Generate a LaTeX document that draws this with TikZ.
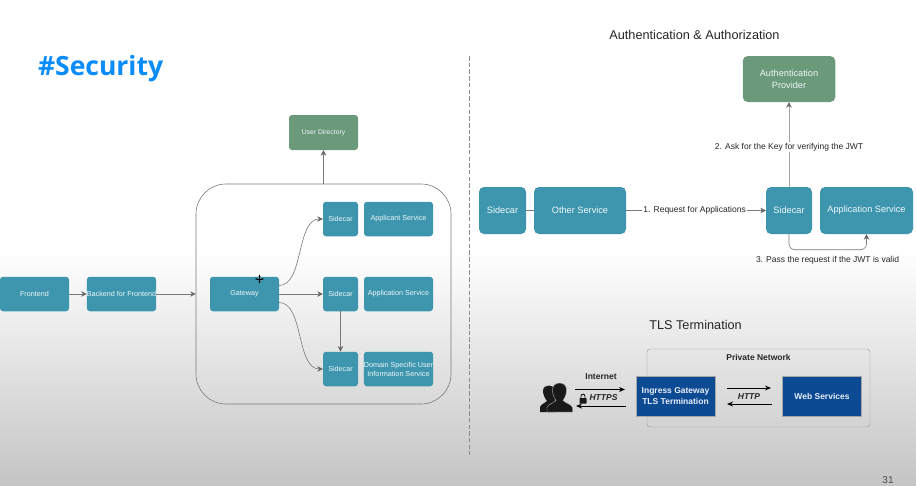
\documentclass[tikz,border=0pt]{standalone}
\usepackage{fontspec}
\setmainfont{Liberation Sans}
\newfontfamily\titlefont{Open Sans}
\usetikzlibrary{arrows.meta}
\usetikzlibrary{positioning}
\definecolor{tealbox}{HTML}{3E96AE}
\definecolor{greenbox}{HTML}{6A9A7A}
\definecolor{navybox}{HTML}{0D4A94}
\definecolor{linegray}{HTML}{7A7A7A}
\definecolor{titleblue}{HTML}{0A8CFA}
\tikzstyle{svc}=[rectangle,rounded corners=3pt,fill=tealbox,text=white!92!tealbox,align=center,font=\fontsize{7.2}{9}\selectfont,inner sep=0pt]
\tikzstyle{bigsvc}=[svc,rounded corners=5pt,font=\fontsize{9.2}{11}\selectfont]
\tikzstyle{auth}=[svc,fill=greenbox,font=\fontsize{6.8}{9}\selectfont]
\tikzstyle{tls}=[rectangle,fill=navybox,draw=black!35,text=white!90!navybox,align=center,font=\fontsize{8.5}{10.5}\selectfont\bfseries,inner sep=0pt]
\tikzstyle{edge}=[draw=linegray,line width=0.6pt,-{Stealth[length=5.5pt,width=5.5pt,color=black!60]}]
\tikzstyle{flatedge}=[draw=linegray,line width=0.6pt]
\tikzstyle{blackedge}=[draw=black,line width=0.9pt,-{Stealth[length=6pt,width=5pt]}]
\tikzstyle{weight}=[font=\fontsize{8.5}{10}\selectfont,text=black!85]
\tikzstyle{heading}=[font=\fontsize{12.7}{15}\selectfont,text=black!85]
\tikzstyle{tlslabel}=[font=\fontsize{8.5}{10}\selectfont\bfseries,text=black!85]
\begin{document}
\begin{tikzpicture}[x=1pt,y=-1pt]

  \useasboundingbox (0,0) rectangle (916,485);
  \fill[white] (0,0) rectangle (916,250);
  \shade[top color=white,bottom color=black!23] (0,250) rectangle (916,485);

  \node[anchor=west,text=titleblue,font=\fontsize{26.5}{30}\selectfont\titlefont\bfseries] (title) at (34.5,69) {\#Security};
  \node[heading] (authtitle) at (694.5,35) {Authentication \& Authorization};
  \node[heading] (tlstitle) at (695.5,324.5) {TLS Termination};
  \node[font=\fontsize{10}{11}\selectfont,text=black!70,inner sep=0pt] (pageno) at (888,480) {31};

  \coordinate (divtop) at (469,56);
  \coordinate (divbot) at (469,455);
  \draw[black!45,line width=1pt,dash pattern=on 4.5pt off 2.2pt] (divtop) -- (divbot);

  % left diagram
  \node[draw=linegray,line width=0.6pt,rounded corners=30pt,minimum width=255pt,minimum height=220pt] (mesh) at (323.5,294) {};

  \foreach \x/\y/\name/\label in {34.5/294/frontend/Frontend, 121.5/294/bff/Backend for Frontend, 244.5/294/gateway/Gateway, 398.5/219/applicant/Applicant Service, 398.5/294/application/Application Service, 398.5/369/domain/{Domain Specific User\\Information Service}}
          \node[svc,minimum width=69pt,minimum height=34.5pt] (\name) at (\x,\y) {\label};

  \foreach \y/\name in {219/sideA, 294/sideB, 369/sideC}
          \node[svc,minimum width=35pt,minimum height=34.5pt] (\name) at (340.5,\y) {Sidecar};

  \node[auth,minimum width=69pt,minimum height=35pt] (userdir) at (323.5,132.5) {User Directory};

  \coordinate (gwtop) at (279,285.5);
  \coordinate (gwbot) at (279,302.5);
  \coordinate (meshtop) at (323.5,184);

  \foreach \source/\dest in {frontend/bff, bff/mesh, gateway/sideB, sideB/sideC}
         \path[edge] (\source) -- (\dest);
  \path[edge] (meshtop) -- (userdir);
  \path[edge] (gwtop) .. controls (304,285.5) and (296,219) .. (sideA);
  \path[edge] (gwbot) .. controls (304,302.5) and (296,369) .. (sideC);

  % cursor
  \coordinate (curW) at (255,279);
  \coordinate (curE) at (264,279);
  \coordinate (curN) at (259.5,274.5);
  \coordinate (curS) at (259.5,283.5);
  \draw[black,line width=0.5pt,{Stealth[length=2.5pt]}-{Stealth[length=2.5pt]}] (curW) -- (curE);
  \draw[black,line width=0.5pt,{Stealth[length=2.5pt]}-{Stealth[length=2.5pt]}] (curN) -- (curS);

  % right top diagram
  \foreach \x/\wid/\name/\label in {502.5/47/sideD/Sidecar, 580/92/other/Other Service, 789/46/sideE/Sidecar, 866.5/93/appsvc/Application Service}
          \node[bigsvc,minimum width=\wid pt,minimum height=47pt] (\name) at (\x,210.5) {\label};

  \node[auth,rounded corners=5pt,font=\fontsize{9.2}{11.5}\selectfont,minimum width=92.5pt,minimum height=46pt] (provider) at (789,79) {Authentication\\Provider};

  \path[flatedge] (sideD) -- (other);
  \path[edge] (other) -- node[weight,fill=white,inner sep=1pt,pos=0.49] (reqlabel) {1. Request for Applications} (sideE);
  \path[edge,draw=black!35,line width=0.9pt] (sideE) -- node[weight,fill=white,inner sep=1pt,pos=0.47] (keylabel) {2. Ask for the Key for verifying the JWT} (provider);
  \path[edge,rounded corners=6pt] (sideE.south) -- ++(0,15.5) -| (appsvc.south);
  \node[weight] (passlabel) at (827.5,260) {3. Pass the request if the JWT is valid};

  % right bottom diagram
  \node[draw=black!40,rounded corners=3pt,minimum width=223pt,minimum height=78pt] (private) at (758.5,388) {};
  \node[tlslabel] (privlabel) at (758.5,357.5) {Private Network};
  \node[tls,minimum width=79pt,minimum height=40pt] (ingress) at (675.5,396) {Ingress Gateway\\TLS Termination};
  \node[tls,minimum width=79pt,minimum height=40pt] (websvc) at (822,396) {Web Services};

  \coordinate (in1a) at (575,389.5);
  \coordinate (in1b) at (625,389.5);
  \coordinate (in2a) at (626,406);
  \coordinate (in2b) at (576,406);
  \coordinate (ht1a) at (727,388);
  \coordinate (ht1b) at (771,388);
  \coordinate (ht2a) at (772,404);
  \coordinate (ht2b) at (727,404);
  \foreach \source/\dest in {in1a/in1b, in2a/in2b, ht1a/ht1b, ht2a/ht2b}
         \path[blackedge] (\source) -- (\dest);

  \node[tlslabel] (inetlabel) at (601,377) {Internet};
  \node[tlslabel,font=\fontsize{8.5}{10}\selectfont\bfseries\itshape] (httpslabel) at (603.5,398) {HTTPS};
  \node[tlslabel,font=\fontsize{8.5}{10}\selectfont\bfseries\itshape] (httplabel) at (749,397) {HTTP};

  % lock
  \fill[black!90,rounded corners=0.5pt] (579.5,398) rectangle (586.5,403.5);
  \draw[black!90,line width=0.9pt] (581,398) -- (581,396.2) arc[start angle=180,end angle=360,radius=2] -- (585,398);

  % users
  \fill[black!90] (540,412) -- (540,407) .. controls (541,404) and (545,403.5) .. (547,401) .. controls (544.5,398) and (543,394) .. (543,391) .. controls (543,387) and (546,385.5) .. (549,385.5) .. controls (552,385.5) and (555,387) .. (555,391) -- (555,412) -- cycle;
  \fill[black!90,draw=black!30,line width=0.4pt] (547,412) -- (547,407.5) .. controls (548,404) and (553,403.5) .. (556,400.5) .. controls (553.5,397) and (552.5,393) .. (552.5,390) .. controls (552.5,385.5) and (555.5,383) .. (559.5,383) .. controls (563.5,383) and (566.5,385.5) .. (566.5,390) .. controls (566.5,393) and (565.5,397) .. (563,400.5) .. controls (566,403.5) and (571,404) .. (572.5,407.5) -- (572.5,412) -- cycle;

\end{tikzpicture}
\end{document}
